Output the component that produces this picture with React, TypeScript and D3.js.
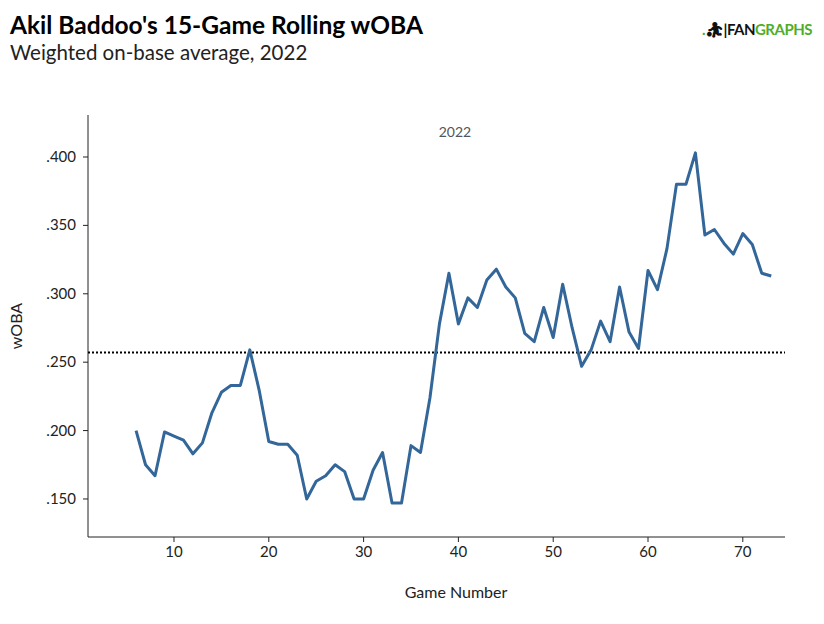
import React from 'react';
import * as d3 from 'd3';

const games = d3.range(6, 74);
const woba = [
  0.200, 0.175, 0.167, 0.199, 0.196, 0.193, 0.183, 0.191, 0.213, 0.228,
  0.233, 0.233, 0.259, 0.229, 0.192, 0.190, 0.190, 0.182, 0.150, 0.163,
  0.167, 0.175, 0.170, 0.150, 0.150, 0.171, 0.184, 0.147, 0.147, 0.189,
  0.184, 0.224, 0.278, 0.315, 0.278, 0.297, 0.290, 0.310, 0.318, 0.305,
  0.297, 0.271, 0.265, 0.290, 0.268, 0.307, 0.275, 0.247, 0.259, 0.280,
  0.265, 0.305, 0.272, 0.260, 0.317, 0.303, 0.333, 0.380, 0.380, 0.403,
  0.343, 0.347, 0.337, 0.329, 0.344, 0.336, 0.315, 0.313,
];
const leagueAvg = 0.257;
const xTicks = [10, 20, 30, 40, 50, 60, 70];
const yTicks = [0.15, 0.2, 0.25, 0.3, 0.35, 0.4];

export default function App() {
  const W = 824, H = 624;
  const L = 88, R = 785, T = 115, B = 537;
  const x = d3.scaleLinear().domain([0.93, 74.45]).range([L, R]);
  const y = d3.scaleLinear().domain([0.1222, 0.4307]).range([B, T]);
  const line = d3.line<number>().x((_, i) => x(games[i])).y(d => y(d));
  const fmt = (v: number) => d3.format('.3f')(v).replace(/^0/, '');
  const font = 'Lato, sans-serif';
  return (
    <svg width={W} height={H} style={{ position: 'absolute', left: 0, top: 0, fontFamily: font }}>
      <rect width={W} height={H} fill="#fff" />
      <text x={10} y={34} fontSize={24.5} fontWeight="bold" fill="#000">Akil Baddoo's 15-Game Rolling wOBA</text>
      <text x={10} y={60} fontSize={20.5} fill="#222">Weighted on-base average, 2022</text>
      <text x={812} y={35} fontSize={15} fontWeight="bold" textAnchor="end" letterSpacing={-0.5}>
        <tspan fill="#50ae26">.</tspan><tspan fill="#111">⛹︎|</tspan><tspan fill="#111">FAN</tspan><tspan fill="#50ae26">GRAPHS</tspan>
      </text>
      <line x1={L} x2={L} y1={T} y2={B} stroke="#222" />
      <line x1={L} x2={R} y1={B} y2={B} stroke="#222" />
      {yTicks.map(t => (
        <g key={t}>
          <line x1={L - 5} x2={L} y1={y(t)} y2={y(t)} stroke="#222" />
          <text x={L - 12} y={y(t) + 5} fontSize={15} textAnchor="end" fill="#222">{fmt(t)}</text>
        </g>
      ))}
      {xTicks.map(t => (
        <g key={t}>
          <line x1={x(t)} x2={x(t)} y1={B} y2={B + 5} stroke="#222" />
          <text x={x(t)} y={B + 20} fontSize={15} textAnchor="middle" fill="#222">{t}</text>
        </g>
      ))}
      <text x={456} y={598} fontSize={16} textAnchor="middle" fill="#222">Game Number</text>
      <text transform="translate(22,326) rotate(-90)" fontSize={16} textAnchor="middle" fill="#222">wOBA</text>
      <text x={455} y={137} fontSize={14} textAnchor="middle" fill="#555">2022</text>
      <line x1={L} x2={R} y1={y(leagueAvg)} y2={y(leagueAvg)} stroke="#000" strokeWidth={2} strokeDasharray="2,2" />
      <path d={line(woba) ?? ''} fill="none" stroke="#336699" strokeWidth={3} strokeLinejoin="round" />
    </svg>
  );
}
